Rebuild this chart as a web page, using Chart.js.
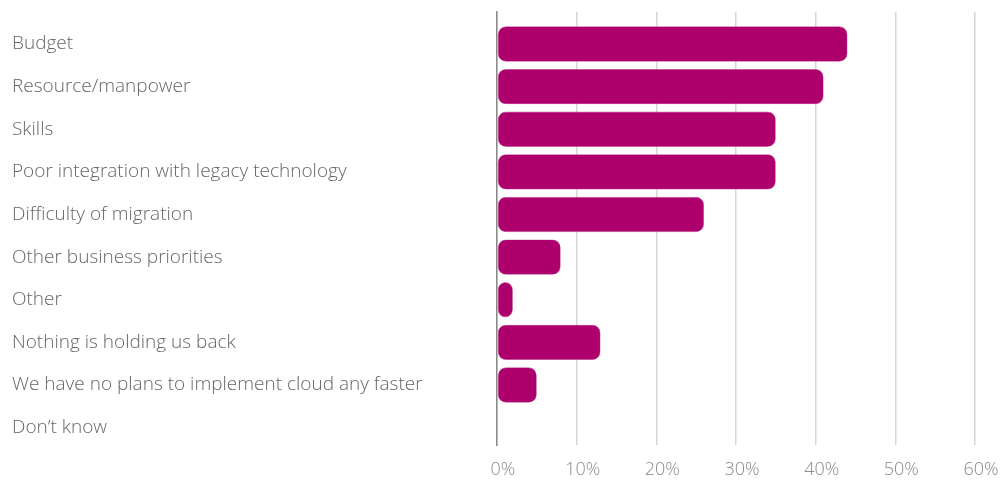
<!DOCTYPE html>
<html lang="en">
<head>
    <meta charset="UTF-8">
    <title>What is holding back cloud adoption</title>
    <script src="https://cdn.jsdelivr.net/npm/chart.js"></script>
    <style>
        html, body { margin: 0; padding: 0; background: #fff; }
        #wrap { width: 1003px; height: 480px; position: relative; }
    </style>
</head>
<body>
    <div id="wrap"><canvas id="chart"></canvas></div>
    <script>
        // --- Data ---
        const categories = [
            'Budget',
            'Resource/manpower',
            'Skills',
            'Poor integration with legacy technology',
            'Difficulty of migration',
            'Other business priorities',
            'Other',
            'Nothing is holding us back',
            'We have no plans to implement cloud any faster',
            'Don\u2019t know'
        ];
        const shares = [44, 41, 35, 35, 26, 8, 2, 13, 5, 0];
        const xTicks = [0, 10, 20, 30, 40, 50, 60];

        const barColor = '#ad006d';
        const font = "'Open Sans', 'Lato', sans-serif";

        // index axis is linear so the rows can sit a bit lower than the axis line top
        const points = shares.map((v, i) => ({ x: v, y: i }));

        new Chart(document.getElementById('chart'), {
            type: 'bar',
            data: {
                datasets: [{
                    data: points,
                    backgroundColor: barColor,
                    borderColor: '#c65a9c',
                    borderWidth: 0.6,
                    borderRadius: 8,
                    borderSkipped: false,
                    barPercentage: 0.83,
                    categoryPercentage: 1
                }]
            },
            options: {
                indexAxis: 'y',
                responsive: true,
                maintainAspectRatio: false,
                animation: false,
                layout: { padding: { left: 12, right: 28, top: 12, bottom: 0 } },
                plugins: { legend: { display: false }, tooltip: { enabled: false } },
                scales: {
                    x: {
                        type: 'linear',
                        min: xTicks[0],
                        max: xTicks[xTicks.length - 1],
                        afterBuildTicks: s => { s.ticks = xTicks.map(v => ({ value: v })); },
                        afterFit: s => { s.height = 35; s.paddingLeft = 0; s.paddingRight = 0; },
                        grid: { color: '#d6d6d6', lineWidth: 1.5, drawTicks: false },
                        border: { display: false },
                        ticks: {
                            padding: 14,
                            labelOffset: 6,
                            color: '#8a8a8a',
                            font: { family: font, size: 18, weight: 300 },
                            callback: v => v + '%'
                        }
                    },
                    y: {
                        type: 'linear',
                        reverse: true,
                        offset: false,
                        min: -0.751,
                        max: 9.407,
                        afterBuildTicks: s => { s.ticks = categories.map((_, i) => ({ value: i })); },
                        afterFit: s => { s.width = 485; s.paddingTop = 0; s.paddingBottom = 0; },
                        grid: { display: false, offset: false },
                        border: { color: '#8a8a8a', width: 1.5 },
                        ticks: {
                            crossAlign: 'far',
                            color: '#666',
                            autoSkip: false,
                            font: { family: font, size: 19, weight: 300 },
                            callback: v => categories[v]
                        }
                    }
                }
            }
        });
    </script>
</body>
</html>
